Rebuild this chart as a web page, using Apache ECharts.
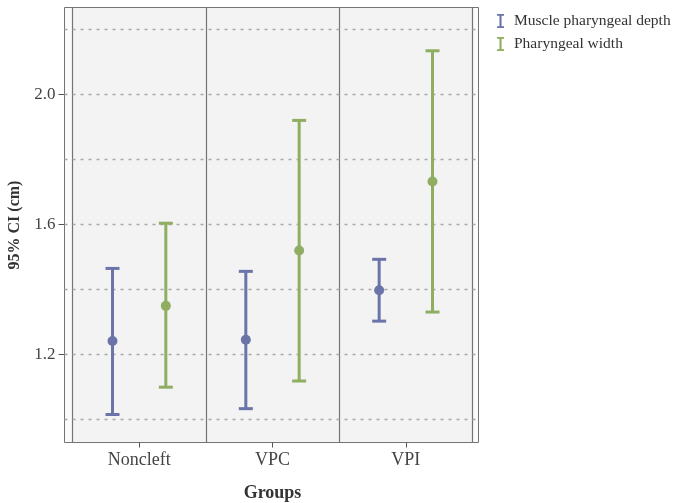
<!DOCTYPE html>
<html>
<head>
  <meta charset="UTF-8">
  <script src="https://cdn.jsdelivr.net/npm/echarts@6/dist/echarts.min.js"></script>
  <style>
    html, body { margin: 0; padding: 0; background: #fff; }
    #main { width: 673px; height: 503px; }
  </style>
</head>
<body>
  <div id="main"></div>
  <script>
    // groups and 95% CI values
    var groups = ['Noncleft', 'VPC', 'VPI'];
    var depthLow = [1.016, 1.034, 1.303];
    var depthMean = [1.242, 1.246, 1.398];
    var depthHigh = [1.465, 1.456, 1.493];
    var widthLow = [1.100, 1.119, 1.331];
    var widthMean = [1.350, 1.520, 1.732];
    var widthHigh = [1.604, 1.920, 2.134];
    var yLabels = [1.2, 1.6, 2.0];
    var yGrid = [1.0, 1.2, 1.4, 1.6, 1.8, 2.0, 2.2];

    var FONT = 'Liberation Serif';
    var blue = '#6b74a8';
    var green = '#8fae62';
    var frame = '#747474';

    function rows(lo, mid, hi) {
      return groups.map(function (g, i) { return [i, lo[i], mid[i], hi[i]]; });
    }

    function errorBar(offset) {
      return function (params, api) {
        var cat = api.value(0);
        var lo = api.coord([cat, api.value(1)]);
        var mid = api.coord([cat, api.value(2)]);
        var hi = api.coord([cat, api.value(3)]);
        var band = api.size([1, 0])[0];
        var x = lo[0] + band * offset;
        var color = api.visual('color');
        var cap = 7;
        return {
          type: 'group',
          children: [
            { type: 'line', shape: { x1: x, y1: hi[1], x2: x, y2: lo[1] }, style: { stroke: color, lineWidth: 3 } },
            { type: 'line', shape: { x1: x - cap, y1: hi[1], x2: x + cap, y2: hi[1] }, style: { stroke: color, lineWidth: 3 } },
            { type: 'line', shape: { x1: x - cap, y1: lo[1], x2: x + cap, y2: lo[1] }, style: { stroke: color, lineWidth: 3 } },
            { type: 'circle', shape: { cx: x, cy: mid[1], r: 5 }, style: { fill: color } }
          ]
        };
      };
    }

    var barIcon = 'path://M0,0 H10 V2.5 H6.5 V17.5 H10 V20 H0 V17.5 H3.5 V2.5 H0 Z';

    var chart = echarts.init(document.getElementById('main'));
    chart.setOption({
      backgroundColor: '#fff',
      textStyle: { fontFamily: FONT },
      legend: {
        orient: 'vertical',
        left: 492,
        top: 8,
        itemWidth: 7,
        itemHeight: 14,
        itemGap: 7,
        textStyle: { fontFamily: FONT, fontSize: 15.5, color: '#333', padding: [0, 0, 0, 5] },
        data: [
          { name: 'Muscle pharyngeal depth', icon: barIcon },
          { name: 'Pharyngeal width', icon: barIcon }
        ]
      },
      grid: [
        { left: 64.5, right: 194.5, top: 7.5, bottom: 60.5, outerBoundsMode: 'none', show: true, backgroundColor: '#fbfbfb', borderColor: frame, borderWidth: 1 },
        { left: 72.5, right: 200.5, top: 7.5, bottom: 60.5, outerBoundsMode: 'none', show: true, backgroundColor: '#f3f3f3', borderColor: frame, borderWidth: 1 }
      ],
      xAxis: [
        { gridIndex: 0, type: 'value', min: 0, max: 1, show: false },
        {
          gridIndex: 1,
          type: 'category',
          data: groups,
          axisLine: { show: false },
          axisTick: { show: true, alignWithLabel: true, length: 5, lineStyle: { color: '#555' } },
          axisLabel: { fontFamily: FONT, fontSize: 18, color: '#444', margin: 9 },
          splitLine: { show: true, interval: 0, lineStyle: { color: frame, width: 1.2 } },
          name: 'Groups',
          nameLocation: 'middle',
          nameGap: 42,
          nameTextStyle: { fontFamily: FONT, fontSize: 18, fontWeight: 'bold', color: '#333' }
        }
      ],
      yAxis: [
        {
          gridIndex: 0,
          type: 'value',
          min: 0.93,
          max: 2.267,
          axisLine: { show: false },
          axisTick: { show: true, customValues: yLabels, length: 6, lineStyle: { color: '#555' } },
          axisLabel: {
            customValues: yLabels,
            fontFamily: FONT, fontSize: 17, color: '#444', margin: 9,
            formatter: function (v) { return v.toFixed(1); }
          },
          splitLine: { show: false },
          name: '95% CI (cm)',
          nameLocation: 'middle',
          nameGap: 40,
          nameTextStyle: { fontFamily: FONT, fontSize: 16, fontWeight: 'bold', color: '#333' }
        },
        {
          // dotted reference lines
          gridIndex: 0,
          type: 'value',
          min: 0.93,
          max: 2.267,
          axisLine: { show: false },
          axisTick: { show: false, customValues: yGrid },
          axisLabel: { show: false },
          splitLine: { show: true, lineStyle: { color: '#a8a8a8', type: [3, 5], width: 1.3 } },
          z: 3
        },
        { gridIndex: 1, type: 'value', min: 0.93, max: 2.267, show: false }
      ],
      series: [
        {
          name: 'Muscle pharyngeal depth',
          type: 'custom',
          xAxisIndex: 1,
          yAxisIndex: 2,
          color: blue,
          renderItem: errorBar(-0.2),
          encode: { x: 0, y: [1, 2, 3] },
          data: rows(depthLow, depthMean, depthHigh),
          z: 5
        },
        {
          name: 'Pharyngeal width',
          type: 'custom',
          xAxisIndex: 1,
          yAxisIndex: 2,
          color: green,
          renderItem: errorBar(0.2),
          encode: { x: 0, y: [1, 2, 3] },
          data: rows(widthLow, widthMean, widthHigh),
          z: 5
        }
      ]
    });
  </script>
</body>
</html>
